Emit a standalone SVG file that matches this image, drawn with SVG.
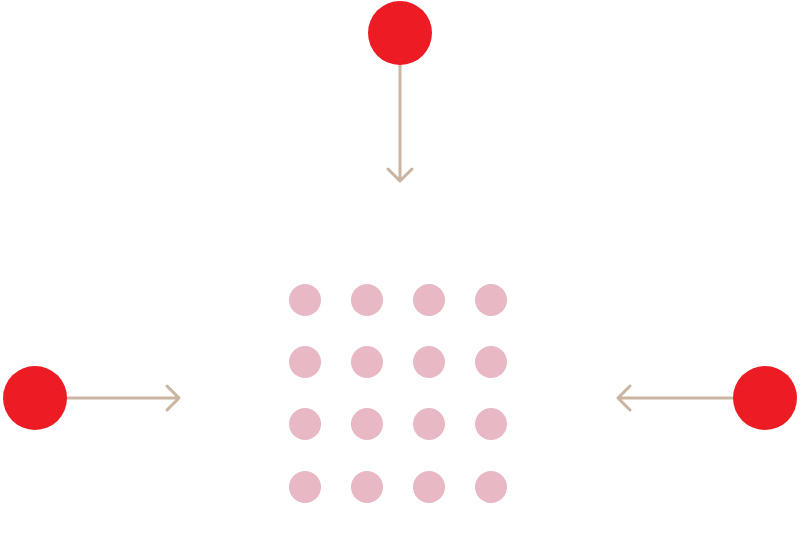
<svg xmlns="http://www.w3.org/2000/svg" width="800" height="555" viewBox="0 0 800 555">
<style>
.red{fill:#ed1c24}
.dot{fill:#e8b9c4}
.ln{stroke:#c9b5a1;stroke-width:3;fill:none;stroke-linecap:round;stroke-linejoin:round}
</style>
<rect width="800" height="555" fill="#fff"/>
<g id="connectors">
<path class="ln" d="M400 64V181M388 169L400 181L412 169"/>
<path class="ln" d="M66 398H179M167 386L179 398L167 410"/>
<path class="ln" d="M734 398H618M630 386L618 398L630 410"/>
</g>
<g id="top"><circle class="red" cx="400" cy="33" r="32"/></g>
<g id="left"><circle class="red" cx="35" cy="398" r="32"/></g>
<g id="right"><circle class="red" cx="765" cy="398" r="32"/></g>
<g id="grid">
<circle class="dot" cx="305" cy="300" r="16"/><circle class="dot" cx="367" cy="300" r="16"/><circle class="dot" cx="429" cy="300" r="16"/><circle class="dot" cx="491" cy="300" r="16"/>
<circle class="dot" cx="305" cy="362" r="16"/><circle class="dot" cx="367" cy="362" r="16"/><circle class="dot" cx="429" cy="362" r="16"/><circle class="dot" cx="491" cy="362" r="16"/>
<circle class="dot" cx="305" cy="424" r="16"/><circle class="dot" cx="367" cy="424" r="16"/><circle class="dot" cx="429" cy="424" r="16"/><circle class="dot" cx="491" cy="424" r="16"/>
<circle class="dot" cx="305" cy="487" r="16"/><circle class="dot" cx="367" cy="487" r="16"/><circle class="dot" cx="429" cy="487" r="16"/><circle class="dot" cx="491" cy="487" r="16"/>
</g>
</svg>
